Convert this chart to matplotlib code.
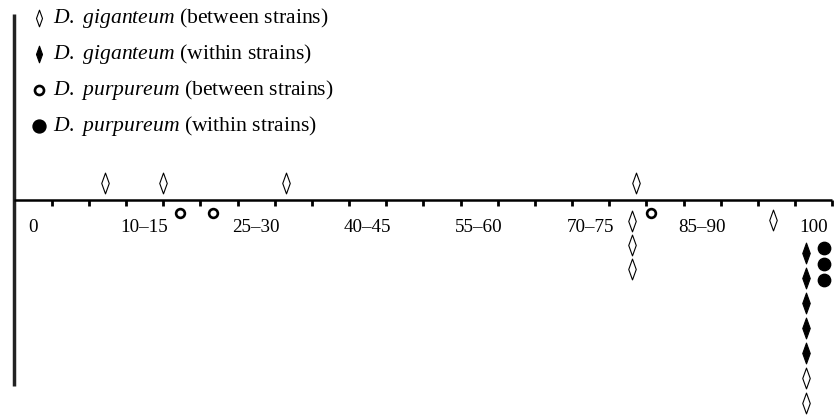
import matplotlib
matplotlib.use("Agg")
import matplotlib.pyplot as plt
from matplotlib.path import Path

plt.rcParams['font.family'] = ['Liberation Serif', 'DejaVu Serif']
plt.rcParams['mathtext.fontset'] = 'custom'
plt.rcParams['mathtext.rm'] = 'Liberation Serif'
plt.rcParams['mathtext.it'] = 'Liberation Serif:italic'

# one bin per tick interval, only some are labelled
bins = ['0', '0–5', '5–10', '10–15', '15–20', '20–25', '25–30', '30–35',
        '35–40', '40–45', '45–50', '50–55', '55–60', '60–65', '65–70',
        '70–75', '75–80', '80–85', '85–90', '90–95', '95–100', '100']
shown = [0, 3, 6, 9, 12, 15, 18, 21]

# positions along the axis (in bin units) and offsets from the axis (px, + = below)
gig_between_x = [2.43, 3.99, 7.31, 16.73, 16.61, 16.61, 16.61, 20.40, 21.30, 21.30]
gig_between_y = [-17, -17, -17, -17, 21, 45, 69, 20, 178, 203]
gig_within_x = [21.30, 21.30, 21.30, 21.30, 21.30]
gig_within_y = [53, 78, 103, 128, 153]
pur_between_x = [4.44, 5.33, 17.13]
pur_between_y = [13, 13, 13]
pur_within_x = [21.79, 21.79, 21.79]
pur_within_y = [48, 64, 80]

legend_items = [('D.\\ giganteum', 'between strains'),
                ('D.\\ giganteum', 'within strains'),
                ('D.\\ purpureum', 'between strains'),
                ('D.\\ purpureum', 'within strains')]

diamond = Path([(0, 1), (0.36, 0), (0, -1), (-0.36, 0), (0, 1)],
               [Path.MOVETO, Path.LINETO, Path.LINETO, Path.LINETO, Path.CLOSEPOLY])

fig = plt.figure(figsize=(8.37, 4.16), dpi=100)
ax = fig.add_axes([0, 0, 1, 1])
step = 37.17
ax.set_xlim(-14.5 / step, (837 - 14.5) / step)
ax.set_ylim(216, -200)
ax.axis('off')

# axes lines
ax.plot([0, 0], [-186, 186], color='#222222', lw=2.5, solid_capstyle='butt')
ax.plot([0, len(bins)], [0, 0], color='black', lw=1.8, solid_capstyle='butt')
ax.vlines(range(1, len(bins) + 1), 0, 6, color='black', lw=2)

for i in shown:
    ax.text(i + 0.5, 28, bins[i], ha='center', va='center', fontsize=13.7)

# markers
ax.plot(gig_between_x, gig_between_y, ls='none', marker=diamond, ms=15,
        mfc='white', mec='black', mew=0.8)
ax.plot(gig_within_x, gig_within_y, ls='none', marker=diamond, ms=15,
        mfc='black', mec='black', mew=0.8)
ax.plot(pur_between_x, pur_between_y, ls='none', marker='o', ms=6.3,
        mfc='white', mec='black', mew=1.9)
ax.plot(pur_within_x, pur_within_y, ls='none', marker='o', ms=8.9,
        mfc='black', mec='black')

# legend
styles = [dict(marker=diamond, ms=12, mfc='white', mec='black', mew=0.8),
          dict(marker=diamond, ms=12, mfc='black', mec='black', mew=0.8),
          dict(marker='o', ms=6.5, mfc='white', mec='black', mew=1.9),
          dict(marker='o', ms=9.3, mfc='black', mec='black')]
for k, ((sp, kind), st) in enumerate(zip(legend_items, styles)):
    yy = -182 + 36 * k
    ax.plot([0.66], [yy], ls='none', **st)
    ax.text(1.04, yy, f'${{\\it {sp}}}$ ({kind})', ha='left', va='center',
            fontsize=15.6)

fig.savefig('out.png', dpi=100)
